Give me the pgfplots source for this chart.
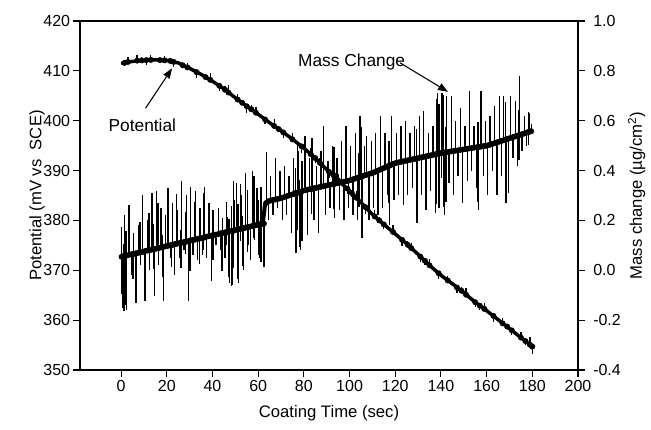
\documentclass[border=0pt]{standalone}
\usepackage{fontspec}
\setmainfont{Liberation Sans}
\usepackage{pgfplots}
\usepackage{pgfplotstable}
\pgfplotsset{compat=1.18}
\usetikzlibrary{arrows.meta}
% potential: smooth trace
\pgfplotstableread{
t P
0 411.5
5 411.9
10 412.1
15 412.2
20 412.1
25 411.6
30 410.5
35 409.3
40 407.9
45 406.4
50 404.6
55 402.9
60 401.3
65 399.6
70 398.0
75 396.3
80 394.5
85 392.5
90 390.2
95 388.0
100 386.0
105 383.6
110 381.2
115 379.2
120 377.3
125 375.3
130 373.2
135 371.0
140 369.0
145 367.3
150 365.5
155 363.6
160 361.9
165 360.1
170 358.3
175 356.5
180 354.7
}\potbase
% potential: noise spikes (value, excursion up, excursion down)
\pgfplotstableread{
t b up dn
1.5 411.6 0.4 0.6
3 411.8 0.9 0.2
7 412.05 1.1 0.2
9 412.1 0.6 0.3
11 412.15 0.2 0.9
13 412.2 1.0 0.2
17 412.15 0.5 0.3
19 412.1 0.8 0.2
21.5 412.0 0.3 0.7
23 411.8 0.2 1.0
27 411.1 0.6 0.2
29 410.7 0.9 0.2
33 409.75 0.2 1.1
37 408.75 0.7 0.3
39 408.2 1.3 0.2
43 407.0 0.2 1.0
45.5 406.2 0.8 0.3
47 405.65 1.5 0.2
51 404.25 1.2 0.3
53 403.6 0.6 0.5
55 402.9 0.2 1.4
57 402.3 0.8 0.2
59 401.6 1.1 0.2
63 400.25 0.3 1.0
67 398.95 1.4 0.2
69 398.3 0.6 0.4
71 397.65 0.2 1.2
75 396.25 1.3 0.2
79 394.85 0.2 1.4
83 393.3 1.2 0.2
85 392.5 0.4 0.9
87 391.55 1.0 0.3
91 389.75 0.2 1.2
93 389.1 0.8 0.3
95 388.0 1.4 0.2
99 386.4 0.3 1.0
101 385.5 0.5 0.8
103 384.55 1.3 0.2
107 382.65 0.2 1.3
111 380.8 1.2 0.2
113 380.0 0.6 0.6
115 379.2 0.2 1.0
119 377.7 1.3 0.2
123 376.1 0.2 1.2
125.5 375.1 0.7 0.3
127 374.45 1.1 0.2
131 372.75 0.2 1.0
133 371.9 0.4 0.8
135 371.0 1.2 0.2
139 369.4 0.2 1.1
143 367.95 1.0 0.2
147 366.55 0.2 1.2
149 365.9 0.7 0.5
151 365.1 1.3 0.2
155 363.6 0.2 1.0
157 362.9 0.5 0.9
159 362.25 1.1 0.2
163 360.85 0.2 1.2
167 359.35 1.0 0.2
169 358.7 0.6 0.5
171 357.95 0.2 1.0
175 356.5 1.2 0.2
177 355.8 0.4 0.7
179 355.05 1.5 0.3
180 354.7 0.3 1.4
}\potspk
% mass change: smooth trace
\pgfplotstableread{
t m
0 0.054
10 0.076
20 0.097
30 0.119
40 0.140
50 0.162
62 0.187
63 0.265
65 0.280
70 0.290
80 0.320
90 0.340
100 0.360
110 0.390
120 0.430
130 0.450
140 0.470
150 0.485
160 0.500
170 0.530
180 0.560
}\massbase
% mass change: spikes
\pgfplotstableread{
t b up dn
0.2 .054 .12 .15
0.5 .055 .01 .205
1.2 .057 .05 .22
1.5 .057 .163 .01
2.2 .059 .10 .20
2.5 .059 .01 .219
3.5 .062 .198 .01
4.5 .064 .01 .084
5.2 .065 .01 .10
5.5 .066 .084 .01
6.5 .068 .01 .198
7.5 .070 .11 .01
8.2 .072 .12 .01
8.5 .072 .01 .052
9.5 .074 .226 .01
10.5 .077 .01 .202
11.5 .079 .121 .01
12.2 .080 .15 .01
12.5 .081 .01 .081
13.5 .083 .227 .01
14.2 .085 .10 .08
14.5 .085 .01 .19
15.5 .087 .233 .01
16.2 .089 .18 .01
16.5 .089 .01 .069
17.5 .092 .158 .01
18.2 .093 .05 .12
18.5 .094 .01 .219
19.5 .096 .124 .01
20.5 .098 .232 .01
21.5 .100 .01 .05
22.2 .102 .01 .09
22.5 .102 .168 .01
23.5 .105 .01 .125
24.2 .106 .20 .01
24.5 .107 .133 .01
25.5 .109 .01 .059
26.2 .110 .05 .10
26.5 .111 .249 .01
27.5 .113 .01 .033
28.2 .114 .12 .05
28.5 .115 .185 .01
29.5 .117 .01 .242
30.2 .119 .01 .12
30.5 .120 .215 .01
31.5 .122 .01 .062
32.2 .123 .15 .01
32.5 .124 .196 .01
33.5 .126 .01 .086
34.2 .127 .05 .10
34.5 .128 .122 .01
35.5 .130 .01 .07
36.2 .131 .18 .05
36.5 .132 .203 .01
37.5 .135 .01 .085
38.5 .137 .133 .01
39.5 .139 .01 .184
40.2 .140 .10 .10
40.5 .141 .079 .01
41.5 .143 .01 .043
42.5 .145 .105 .01
43.5 .148 .01 .068
44.2 .149 .01 .15
44.5 .150 .06 .01
45.5 .152 .01 .102
46.2 .153 .12 .05
46.5 .154 .06 .01
47.2 .155 .05 .18
47.5 .156 .01 .206
48.2 .157 .10 .22
48.5 .158 .01 .218
49.2 .159 .20 .15
49.5 .160 .12 .01
50.5 .163 .187 .01
51.2 .164 .10 .20
51.5 .165 .01 .215
52.2 .166 .18 .05
52.5 .167 .133 .01
53.2 .168 .05 .15
53.5 .169 .01 .169
54.5 .171 .219 .01
55.2 .172 .15 .10
55.5 .173 .01 .073
56.5 .175 .01 .135
57.5 .178 .222 .01
58.2 .179 .20 .05
58.5 .180 .01 .06
59.5 .182 .148 .01
60.2 .183 .10 .12
60.5 .184 .01 .134
61.2 .185 .15 .15
61.5 .186 .114 .01
62.2 .187 .08 .17
62.5 .187 .01 .172
63.5 .270 .206 .01
64.5 .277 .01 .077
65.5 .280 .10 .01
66.5 .282 .01 .062
67.5 .284 .166 .01
68.5 .286 .01 .036
69.5 .288 .112 .01
70.5 .291 .01 .091
71.5 .294 .126 .01
72.5 .297 .01 .077
73.5 .300 .08 .01
74.5 .303 .01 .153
75.5 .306 .144 .01
76.2 .309 .10 .20
76.5 .309 .01 .239
77.2 .311 .20 .15
77.5 .312 .168 .01
78.2 .314 .05 .22
78.5 .315 .01 .235
79.2 .317 .12 .20
80.5 .321 .219 .01
81.5 .323 .01 .183
82.5 .325 .125 .01
83.2 .326 .10 .10
83.5 .327 .203 .01
84.5 .329 .01 .129
85.5 .331 .089 .01
86.5 .333 .01 .183
87.5 .335 .145 .01
88.5 .337 .243 .01
89.5 .339 .01 .119
90.5 .341 .099 .01
91.5 .343 .01 .093
92.5 .345 .155 .01
93.2 .346 .15 .10
93.5 .347 .01 .137
94.5 .349 .101 .01
95.5 .351 .01 .111
96.5 .353 .167 .01
97.5 .355 .01 .155
98.5 .357 .223 .01
99.5 .359 .01 .109
100.5 .362 .138 .01
101.5 .365 .01 .145
102.5 .368 .182 .01
103.5 .371 .01 .171
104.2 .372 .10 .12
104.5 .374 .246 .01
105.2 .375 .20 .20
105.5 .377 .01 .247
106.5 .380 .12 .01
107.5 .383 .157 .01
108.5 .386 .01 .186
109.5 .389 .131 .01
110.5 .392 .01 .142
111.5 .396 .154 .01
112.5 .400 .01 .18
113.5 .404 .216 .01
114.5 .408 .01 .158
115.5 .412 .138 .01
116.5 .416 .01 .116
117.2 .419 .10 .15
117.5 .420 .01 .24
118.5 .424 .196 .01
119.5 .428 .01 .148
120.5 .431 .119 .01
121.5 .433 .01 .133
122.5 .435 .145 .01
123.5 .437 .01 .177
124.5 .439 .161 .01
125.5 .441 .01 .141
126.5 .443 .107 .01
127.5 .445 .01 .115
128.5 .447 .133 .01
129.2 .448 .12 .20
129.5 .449 .01 .259
130.5 .451 .169 .01
131.5 .453 .01 .153
132.5 .455 .185 .01
133.5 .457 .01 .217
134.5 .459 .091 .01
135.5 .461 .01 .141
136.5 .463 .117 .01
137.5 .465 .01 .235
138.2 .466 .22 .20
138.5 .467 .243 .01
139.2 .468 .20 .22
139.5 .469 .01 .169
140.2 .470 .18 .10
140.5 .471 .239 .01
141.2 .472 .23 .22
141.5 .472 .01 .252
142.2 .473 .10 .20
142.5 .474 .226 .01
143.5 .475 .01 .125
144.5 .477 .223 .01
145.5 .478 .01 .178
146.5 .480 .12 .01
147.5 .481 .01 .101
148.5 .483 .167 .01
149.5 .484 .01 .214
150.5 .486 .094 .01
151.5 .487 .01 .127
152.5 .489 .231 .01
153.5 .490 .01 .09
154.5 .492 .088 .01
155.5 .493 .01 .163
156.2 .494 .10 .22
156.5 .495 .01 .255
157.5 .496 .224 .01
158.5 .498 .01 .118
159.5 .499 .101 .01
160.5 .501 .01 .201
161.5 .504 .116 .01
162.5 .507 .01 .107
163.5 .510 .15 .01
164.5 .513 .01 .213
165.5 .516 .184 .01
166.5 .519 .01 .139
167.5 .522 .178 .01
168.2 .524 .15 .25
168.5 .525 .01 .255
169.5 .528 .01 .218
170.5 .531 .169 .01
171.5 .534 .01 .084
172.5 .537 .143 .01
173.5 .540 .01 .12
174.2 .542 .10 .10
174.5 .543 .237 .01
175.5 .546 .01 .066
176.5 .549 .071 .01
177.5 .552 .01 .052
178.2 .554 .08 .05
178.5 .555 .075 .01
179.5 .558 .03 .01
}\massspk
\begin{document}
\begin{tikzpicture}
\pgfplotsset{
 every axis/.append style={scale only axis, width=373.5pt, height=261.75pt,
  xmin=-18, xmax=200, tick align=outside, major tick length=5.25pt,
  /pgf/number format/assume math mode=true,
  tick label style={font=\fontsize{12}{14}\selectfont},
  label style={font=\fontsize{12.5}{15}\selectfont},
  axis line style={line width=0.9pt},
  every tick/.style={black, line width=0.8pt}},
 spikes/.style={only marks, mark=none,
  error bars/.cd, y dir=both, y explicit, error mark=none,
  error bar style={black, solid, line width=1pt}}
}
\begin{axis}[name=ax, ymin=350, ymax=420,
  xtick={0,20,40,60,80,100,120,140,160,180,200},
  ytick={350,360,370,380,390,400,410,420},
  xtick pos=left, ytick pos=left,
  xlabel={Coating Time (sec)}, ylabel={Potential (mV vs\ \ SCE)},
  xlabel style={at={(axis description cs:0.5,-0.1232)}, anchor=center},
  ylabel style={at={(axis description cs:-0.0863,0.5)}, anchor=center},
  yticklabel style={inner sep=2pt}, xticklabel style={inner sep=2pt}]
\addplot[black, line width=2.6pt, no marks, line join=round] table[x=t, y=P] {\potbase};
\addplot[spikes] table[x=t, y=b, y error plus=up, y error minus=dn] {\potspk};
\node[anchor=base, font=\fontsize{13}{15}\selectfont] at (axis cs:9.3,397.8) {Potential};
\draw[-{Triangle[length=7.5pt,width=5.5pt]}, line width=0.8pt] (axis cs:10.7,402.5) -- (axis cs:22.3,410.5);
\node[anchor=base, font=\fontsize{13}{15}\selectfont] at (axis cs:100.9,410.8) {Mass Change};
\draw[-{Triangle[length=7.5pt,width=5.5pt]}, line width=0.8pt] (axis cs:122.1,411.6) -- (axis cs:143.1,405.8);
\end{axis}
\begin{axis}[ymin=-0.4, ymax=1.0, axis y line*=right, axis x line=none,
  ytick={-0.4,-0.2,0,0.2,0.4,0.6,0.8,1.0},
  yticklabel style={/pgf/number format/.cd, fixed, fixed zerofill, precision=1, /tikz/.cd, inner sep=2pt, xshift=4pt},
  ylabel={Mass change (µg/cm\textsuperscript{2})},
  ylabel style={at={(axis description cs:1.1179,0.5)}, anchor=center}]
\addplot[black, line width=3pt, no marks, line join=round] table[x=t, y=m] {\massbase};
\addplot[spikes] table[x=t, y=b, y error plus=up, y error minus=dn] {\massspk};
\end{axis}
\path ([shift={(-60pt,-45pt)}]ax.south west) rectangle ([shift={(54.75pt,15.75pt)}]ax.north east);
\end{tikzpicture}
\end{document}
